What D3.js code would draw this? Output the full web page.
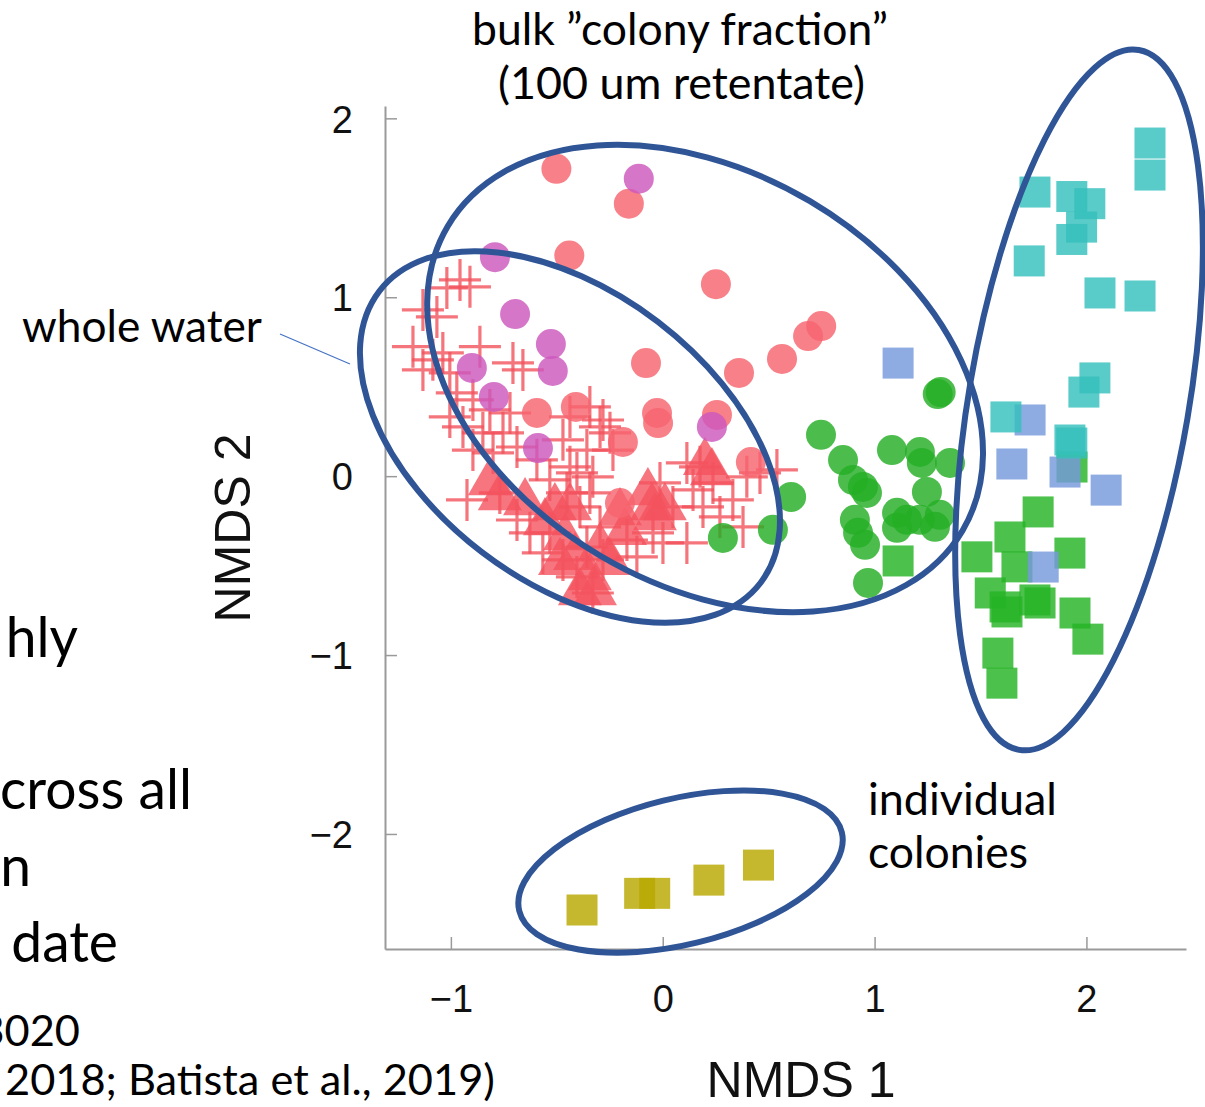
<!DOCTYPE html>
<html>
<head>
<meta charset="utf-8">
<script src="https://cdn.jsdelivr.net/npm/d3@7"></script>
<style>
  html, body { margin: 0; padding: 0; background: #fff; overflow: hidden; }
  svg { display: block; }
</style>
</head>
<body>
<div id="chart"></div>
<script>
// NMDS ordination values (NMDS 1, NMDS 2)
const wholeWaterCross = [
  [-0.957, 1.097], [-0.910, 1.058], [-1.019, 1.052], [-1.132, 0.929], [-1.066, 0.890],
  [-1.179, 0.724], [-1.085, 0.650], [-1.038, 0.689], [-1.132, 0.594], [-1.005, 0.577],
  [-0.863, 0.724], [-0.707, 0.633], [-0.660, 0.594], [-0.972, 0.466], [-0.896, 0.426],
  [-0.816, 0.370], [-0.721, 0.353], [-1.005, 0.331], [-0.943, 0.275], [-0.849, 0.242],
  [-0.754, 0.242], [-0.896, 0.146], [-0.801, 0.130], [-0.688, 0.163], [-0.594, 0.091],
  [-0.924, -0.133], [-0.769, -0.094], [-0.688, -0.245], [-0.627, -0.317], [-0.566, -0.429],
  [-0.533, -0.021], [-0.452, -0.094], [-0.405, 0.018], [-0.344, -0.094], [-0.282, 0.314],
  [-0.344, 0.387], [-0.249, 0.242], [-0.471, 0.203], [-0.438, 0.331], [-0.296, 0.275],
  [-0.358, 0.146], [-0.438, 0.052], [-0.330, -0.004], [-0.391, -0.172], [-0.296, -0.284],
  [-0.358, -0.396], [-0.282, -0.468], [-0.169, -0.357], [-0.013, -0.038], [0.048, -0.172],
  [0.001, -0.373], [0.143, -0.077], [0.190, -0.172], [0.237, -0.038], [0.270, -0.228],
  [0.331, -0.133], [0.379, -0.284], [0.459, 0.018], [0.539, 0.035], [0.397, -0.004],
  [0.114, -0.373], [-0.046, -0.317], [-0.122, -0.451], [0.176, 0.052], [0.114, 0.074],
  [-0.235, 0.146], [-0.471, -0.468], [-0.405, -0.563], [-0.330, -0.653], [-0.533, -0.317]
];
const wholeWaterTriangle = [
  [-0.769, -0.105], [-0.650, -0.133], [-0.509, -0.161], [-0.462, -0.329], [-0.414, -0.440],
  [-0.344, -0.552], [-0.320, -0.636], [-0.249, -0.468], [-0.202, -0.189], [-0.070, -0.077],
  [-0.037, -0.217], [0.010, -0.161], [0.199, 0.091], [0.232, 0.035],
  [-0.556, -0.245], [-0.485, -0.468], [-0.391, -0.636], [-0.296, -0.384], [-0.178, -0.300],
  [-0.051, -0.161], [-0.438, -0.161], [-0.816, -0.021]
];
const bulkRed = [
  [-0.502, 1.718], [-0.160, 1.523], [-0.441, 1.233], [0.251, 1.073], [0.748, 0.839],
  [0.686, 0.783], [0.563, 0.655], [0.360, 0.577], [-0.079, 0.632], [-0.594, 0.353],
  [-0.410, 0.387], [-0.027, 0.353], [-0.022, 0.297], [0.256, 0.342], [-0.188, 0.191],
  [0.416, 0.079], [-0.202, -0.150]
];
const bulkMagenta = [
  [-0.113, 1.663], [-0.792, 1.224], [-0.697, 0.906], [-0.528, 0.738], [-0.519, 0.588],
  [-0.901, 0.605], [-0.797, 0.443], [-0.589, 0.157], [0.232, 0.275]
];
const bulkGreen = [
  [0.284, -0.345], [0.520, -0.300], [0.606, -0.116], [1.298, 0.459], [1.312, 0.470],
  [0.747, 0.231], [0.851, 0.090], [0.898, -0.021], [0.945, -0.060], [0.964, -0.094],
  [1.082, 0.146], [1.214, 0.135], [1.223, 0.074], [1.356, 0.074], [1.247, -0.088],
  [0.907, -0.244], [0.922, -0.317], [0.955, -0.384], [1.106, -0.205], [1.106, -0.289],
  [1.153, -0.244], [1.214, -0.244], [1.285, -0.283], [1.308, -0.216], [0.969, -0.597]
];
const colonyGreen = [
  [1.111, -0.474], [1.483, -0.451], [1.772, -0.200], [1.639, -0.340], [1.672, -0.507],
  [1.546, -0.653], [1.625, -0.759], [1.616, -0.731], [1.757, -0.692], [1.781, -0.709],
  [1.922, -0.430], [1.946, -0.765], [2.007, -0.911], [1.582, -0.989], [1.601, -1.157],
  [1.932, 0.051]
];
const colonyBlue = [
  [1.111, 0.632], [1.734, 0.314], [1.648, 0.068], [1.899, 0.023], [2.093, -0.078],
  [1.796, -0.508]
];
const colonyCyan = [
  [2.300, 1.862], [2.300, 1.683], [1.757, 1.588], [1.931, 1.563], [2.016, 1.523],
  [1.977, 1.392], [1.931, 1.323], [1.730, 1.203], [2.064, 1.024], [2.253, 1.007],
  [2.040, 0.549], [1.988, 0.470], [1.620, 0.331], [1.922, 0.202], [1.931, 0.185]
];
const colonyOlive = [
  [-0.381, -2.425], [-0.109, -2.332], [-0.038, -2.332], [0.218, -2.258], [0.452, -2.174]
];

const xTicks = [-1, 0, 1, 2];
const yTicks = [-2, -1, 0, 1, 2];

// group ellipses: centre in data units, semi-axes in px, rotation in degrees
const groupEllipses = [
  { cx: -0.438, cy: 0.219, a: 240, b: 145, angle: 37.4 },
  { cx: 0.200, cy: 0.546, a: 299, b: 206, angle: 30.6 },
  { cx: 1.965, cy: 0.426, a: 355, b: 110, angle: -80.3 },
  { cx: 0.084, cy: -2.210, a: 166, b: 73, angle: -13.7 }
];

const W = 1205, H = 1107;
const svg = d3.select('#chart').append('svg')
  .attr('width', W).attr('height', H);

const x = d3.scaleLinear().domain([-1.311, 2.470]).range([385, 1186]);
const y = d3.scaleLinear().domain([-2.643, 2.069]).range([949, 106]);

const axisColor = '#9a9a9a';
const tickFont = '"Liberation Sans", Arial, Helvetica, sans-serif';
const slideFont = 'Lato, "Open Sans", sans-serif';
const minus = d => d3.format('d')(d).replace('-', '\u2212');

// axes (ticks point inward like the original)
const xAxis = svg.append('g')
  .attr('transform', `translate(0,${y.range()[0]})`)
  .call(d3.axisBottom(x).tickValues(xTicks).tickSize(-12).tickSizeOuter(0)
    .tickPadding(36).tickFormat(minus));
const yAxis = svg.append('g')
  .attr('transform', `translate(${x.range()[0]},0)`)
  .call(d3.axisLeft(y).tickValues(yTicks).tickSize(-12).tickSizeOuter(0)
    .tickPadding(32).tickFormat(minus));

[xAxis, yAxis].forEach(g => {
  g.select('.domain').attr('stroke', axisColor).attr('stroke-width', 2);
  g.selectAll('.tick line').attr('stroke', axisColor).attr('stroke-width', 1.5);
  g.selectAll('.tick text')
    .attr('fill', '#111')
    .attr('font-family', tickFont)
    .attr('font-size', 38);
});
yAxis.selectAll('.tick text').attr('dy', '0.36em');

// axis titles
svg.append('text')
  .attr('x', 801).attr('y', 1097)
  .attr('text-anchor', 'middle')
  .attr('font-family', tickFont).attr('font-size', 50).attr('fill', '#111')
  .text('NMDS 1');
svg.append('text')
  .attr('transform', 'translate(250,528) rotate(-90)')
  .attr('text-anchor', 'middle')
  .attr('font-family', tickFont).attr('font-size', 50).attr('fill', '#111')
  .text('NMDS 2');

const plot = svg.append('g');
const crossHalf = 21, circleR = 15, squareSide = 31, triSide = 44;

// whole water crosses
plot.append('g').selectAll('path')
  .data(wholeWaterCross)
  .enter().append('path')
  .attr('d', d => {
    const px = x(d[0]), py = y(d[1]);
    return `M${px - crossHalf},${py}H${px + crossHalf}M${px},${py - crossHalf}V${py + crossHalf}`;
  })
  .attr('stroke', '#f3525d')
  .attr('stroke-width', 3.2)
  .attr('stroke-opacity', 0.8)
  .attr('fill', 'none');

// whole water triangles
const triH = triSide * Math.sqrt(3) / 2;
plot.append('g').selectAll('path')
  .data(wholeWaterTriangle)
  .enter().append('path')
  .attr('d', d => {
    const px = x(d[0]), py = y(d[1]);
    return `M${px},${py - triH * 0.6}L${px + triSide / 2},${py + triH * 0.4}L${px - triSide / 2},${py + triH * 0.4}Z`;
  })
  .attr('fill', '#f4535e')
  .attr('fill-opacity', 0.8);

function drawCircles(data, color) {
  plot.append('g').selectAll('circle')
    .data(data)
    .enter().append('circle')
    .attr('cx', d => x(d[0]))
    .attr('cy', d => y(d[1]))
    .attr('r', circleR)
    .attr('fill', color)
    .attr('fill-opacity', 0.82);
}

function drawSquares(data, color) {
  plot.append('g').selectAll('rect')
    .data(data)
    .enter().append('rect')
    .attr('x', d => x(d[0]) - squareSide / 2)
    .attr('y', d => y(d[1]) - squareSide / 2)
    .attr('width', squareSide)
    .attr('height', squareSide)
    .attr('fill', color)
    .attr('fill-opacity', 0.82);
}

drawCircles(bulkRed, '#f6646f');
drawCircles(bulkMagenta, '#cc58bd');
drawCircles(bulkGreen, '#24af24');
drawSquares(colonyGreen, '#24b324');
drawSquares(colonyBlue, '#7598dc');
drawSquares(colonyCyan, '#35c0bc');
drawSquares(colonyOlive, '#b8a800');

// group ellipses
svg.append('g').selectAll('ellipse')
  .data(groupEllipses)
  .enter().append('ellipse')
  .attr('cx', d => x(d.cx))
  .attr('cy', d => y(d.cy))
  .attr('rx', d => d.a)
  .attr('ry', d => d.b)
  .attr('transform', d => `rotate(${d.angle},${x(d.cx)},${y(d.cy)})`)
  .attr('fill', 'none')
  .attr('stroke', '#2f5597')
  .attr('stroke-width', 6);

// annotations, sized to the widths measured on the slide
function fitText(sel, width) {
  const w = sel.node().getComputedTextLength();
  const fs = parseFloat(sel.attr('font-size'));
  sel.attr('font-size', fs * width / w);
  return sel;
}

function label(txt, px, py, width, anchor) {
  const t = svg.append('text')
    .attr('x', px).attr('y', py)
    .attr('text-anchor', anchor || 'start')
    .attr('font-family', slideFont)
    .attr('font-size', 40)
    .attr('fill', '#000')
    .text(txt);
  if (width) fitText(t, width);
  return t;
}

label('bulk \u201dcolony fraction\u201d', 472, 45, 416);
label('(100 um retentate)', 498, 99, 367);
label('whole water', 22, 342, 240);
label('individual', 868, 815, 189);
label('colonies', 868, 868, 160);

svg.append('line')
  .attr('x1', 280).attr('y1', 334)
  .attr('x2', 350).attr('y2', 364)
  .attr('stroke', '#4472c4')
  .attr('stroke-width', 1.2);

// slide body text cut at the left edge
const big = label('cross all', 0, 809, 192);
const bigSize = big.attr('font-size');
[['hly', 78, 657], ['n', 31, 886], ['date', 118, 962]].forEach(([t, px, py]) => {
  label(t, px, py, null, 'end').attr('font-size', bigSize);
});
const small = label('2018; Batista et al., 2019)', 5, 1095, 490);
label('3020', 80, 1046, null, 'end').attr('font-size', small.attr('font-size'));
</script>
</body>
</html>
